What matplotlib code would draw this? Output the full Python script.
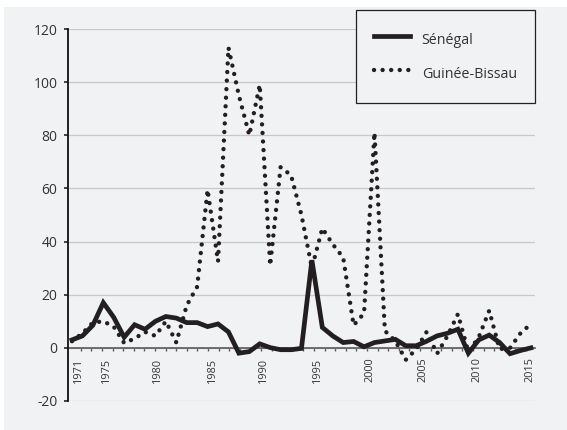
import matplotlib
matplotlib.use("Agg")
import matplotlib.pyplot as plt
from matplotlib.patches import Rectangle
from matplotlib.lines import Line2D
import numpy as np

plt.rcParams['font.family'] = ['Open Sans', 'DejaVu Sans']
plt.rcParams['axes.unicode_minus'] = False

# ---- data -------------------------------------------------------------
years = list(range(1971, 2016))
senegal = [3, 4.5, 8.5, 17, 11.5, 4, 8.7, 7, 10, 11.8,
           11.2, 9.5, 9.5, 8, 9, 6, -2, -1.4, 1.5, 0.1,
           -0.7, -0.7, -0.2, 33, 7.7, 4.5, 2, 2.4, 0.4, 2,
           2.6, 3.2, 0.8, 0.8, 2.5, 4.5, 5.5, 7, -2, 3,
           4.8, 2, -2.2, -1, 0]
guinee_bissau = [2.5, 5.5, 9.5, 10, 8, 1.8, 3.5, 6, 4.5, 10,
                 2, 16, 23, 59.5, 32.5, 113, 95, 80, 99, 31,
                 68, 65, 50, 30, 45, 39, 34, 8.5, 13, 81,
                 6.4, 2.6, -4.5, -0.5, 6, -2.2, 4.5, 12.7, -1.5, 4,
                 14, -0.5, 0, 5.5, 9]
tick_labels = ['1971', '1975', '1980', '1985', '1990', '1995',
               '2000', '2005', '2010', '2015']
y_ticks = [-20, 0, 20, 40, 60, 80, 100, 120]
series_names = ['Sénégal', 'Guinée-Bissau']

# ---- layout (pixel based) --------------------------------------------
W, H = 567, 430
BG = '#f1f2f4'
INK = '#231f20'
DOTS = (0, (0.01, 1.95))

fig = plt.figure(figsize=(W / 100, H / 100), dpi=100, facecolor='white')
fig.patches.append(Rectangle((4 / W, 0), 1 - 4 / W, 1 - 7 / H,
                             transform=fig.transFigure, facecolor=BG,
                             edgecolor='none', zorder=-10))

ax_l, ax_r, ax_t, ax_b = 68, 535, 29, 401
ax = fig.add_axes([ax_l / W, (H - ax_b) / H, (ax_r - ax_l) / W, (ax_b - ax_t) / H])
ax.set_facecolor('none')
ax.set_zorder(1)

# data index position of the first point and pixel spacing
x0_px, step_px = 72.0, 10.43
def px2idx(p):
    return (p - x0_px) / step_px

x = np.arange(len(years))
ax.set_xlim(px2idx(ax_l), px2idx(ax_r))
ax.set_ylim(-20, 120)

ax.plot(x, guinee_bissau, color=INK, lw=3.15, linestyle=DOTS,
        dash_capstyle='round', zorder=3, label=series_names[1])
ax.plot(x, senegal, color=INK, lw=3.4, solid_joinstyle='miter',
        zorder=4, label=series_names[0])

# grid
ax.set_yticks(y_ticks)
ax.yaxis.grid(True, color='#c8c8c8', lw=0.9)
ax.set_axisbelow(True)

for s in ['top', 'right']:
    ax.spines[s].set_visible(False)
ax.spines['left'].set_color('#111111')
ax.spines['left'].set_linewidth(1.3)
ax.spines['bottom'].set_position(('data', 0))
ax.spines['bottom'].set_color('#5a5a5a')
ax.spines['bottom'].set_linewidth(1.2)
ax.spines['bottom'].set_zorder(2)

ax.tick_params(axis='y', direction='out', length=3, width=1.1, color='#111111',
               pad=4.5, labelsize=10, labelcolor='#333333')

label_px = [78, 106, 157, 212, 263, 317, 370, 423, 477, 530]
ax.set_xticks([px2idx(p) for p in label_px])
ax.set_xticklabels(tick_labels, rotation=90, fontsize=7.8, color='#333333',
                   va='top', ha='center')
ax.tick_params(axis='x', which='major', length=0, pad=7)
minor_px = [80.7 + k * 10.6 for k in range(43)]
ax.set_xticks([px2idx(p) for p in minor_px], minor=True)
ax.tick_params(axis='x', which='minor', direction='out', length=2.2,
               width=1.0, color='#5a5a5a')

# legend
handles = [Line2D([], [], color=INK, lw=3.4),
           Line2D([], [], color=INK, lw=3.15, linestyle=DOTS,
                  dash_capstyle='round')]
leg = fig.legend(handles, series_names, loc='upper right',
                 bbox_to_anchor=(ax_r / W, 1 - 10 / H), borderaxespad=0,
                 fontsize=10.3, frameon=True, fancybox=False,
                 handlelength=2.45, handletextpad=0.85, borderpad=1.27,
                 handleheight=2.1, labelspacing=0.72)
leg.set_zorder(5)
leg.get_frame().set_facecolor(BG)
leg.get_frame().set_edgecolor('#222222')
leg.get_frame().set_linewidth(0.9)
leg.get_frame().set_alpha(1)
for t in leg.get_texts():
    t.set_color('#333333')

fig.savefig('out.png', dpi=100, facecolor='white')
